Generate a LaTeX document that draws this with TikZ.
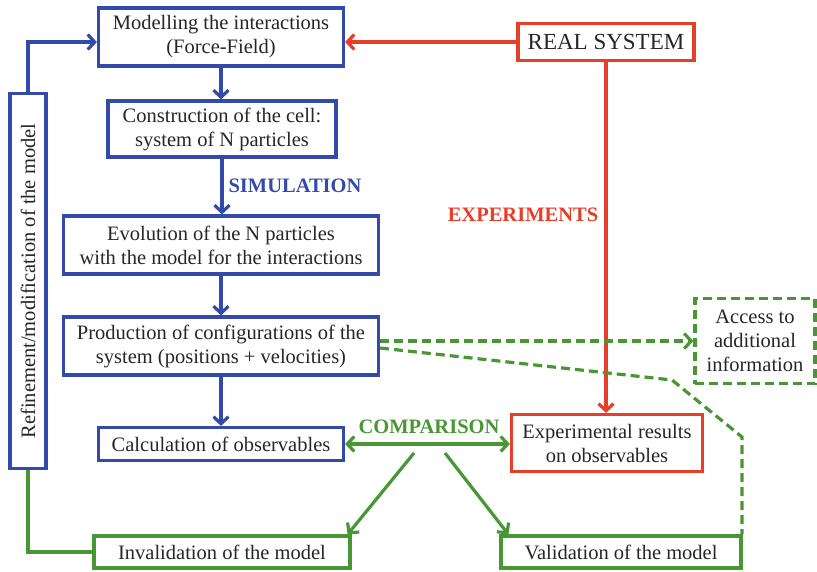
\documentclass[tikz,border=0pt]{standalone}
\usepackage{fontspec}
\setmainfont{Liberation Serif}
\usetikzlibrary{arrows.meta, positioning}
\definecolor{simblue}{RGB}{52,74,170}
\definecolor{expred}{RGB}{230,62,40}
\definecolor{cmpgreen}{RGB}{72,150,52}

\begin{document}
\begin{tikzpicture}[x=1pt, y=-1pt, font=\fontsize{20.5}{24}\selectfont,
    box/.style={line width=3.2pt, align=center, inner sep=0pt, text=black!85},
    link/.style={line width=3.2pt, -{Straight Barb[length=7pt,width=15pt]}},
    dashlink/.style={line width=3.2pt, dash pattern=on 9pt off 5pt},
    tag/.style={font=\fontsize{20.5}{24}\selectfont\bfseries}]
    \useasboundingbox (0,0) rectangle (817,571);
    % simulation chain
    \node[box, draw=simblue, minimum width=245pt, minimum height=58pt] (model) at (221,37) {Modelling the interactions\\ (Force-Field)};
    \node[box, draw=simblue, minimum width=228pt, minimum height=56pt] (cell) at (222,129) {Construction of the cell:\\ system of N particles};
    \node[box, draw=simblue, minimum width=315pt, minimum height=58pt] (evol) at (221,245) {Evolution of the N particles\\ with the model for the interactions};
    \node[box, draw=simblue, minimum width=315pt, minimum height=58pt] (prod) at (221,346) {Production of configurations of the\\ system (positions + velocities)};
    \node[box, draw=simblue, minimum width=245pt, minimum height=33pt] (calc) at (221,444) {Calculation of observables};
    \node[box, draw=simblue, rotate=90, minimum width=375pt, minimum height=36pt] (refine) at (28,281) {Refinement/modification of the model};
    % experiments
    \node[box, draw=expred, minimum width=176pt, minimum height=37pt, font=\fontsize{23}{26}\selectfont] (real) at (606,42) {REAL SYSTEM};
    \node[box, draw=expred, minimum width=191pt, minimum height=57pt] (exp) at (607,443) {Experimental results\\ on observables};
    % outcomes
    \node[box, draw=cmpgreen, dashlink, minimum width=120pt, minimum height=85pt] (access) at (755,341) {Access to\\ additional\\ information};
    \node[box, draw=cmpgreen, minimum width=256pt, minimum height=32pt] (inval) at (222,552) {Invalidation of the model};
    \node[box, draw=cmpgreen, minimum width=240pt, minimum height=32pt] (valid) at (621,552) {Validation of the model};
    % labels
    \node[tag, text=simblue] (simlab) at (295,186) {SIMULATION};
    \node[tag, text=expred] (explab) at (523,215) {EXPERIMENTS};
    \node[tag, text=cmpgreen] (cmplab) at (429,427) {COMPARISON};
    \coordinate (cmpL) at (414,453);
    \coordinate (cmpR) at (445,453);
    \coordinate (bend1) at (672,380);
    \coordinate (bend2) at (742,437);

    \draw[link, simblue] (model.south) -- (model.south |- cell.north);
    \draw[link, simblue] (cell.south) -- (cell.south |- evol.north);
    \draw[link, simblue] (evol.south) -- (evol.south |- prod.north);
    \draw[link, simblue] (prod.south) -- (prod.south |- calc.north);
    \draw[link, simblue] (refine.east) |- (real.west -| model.west);
    \draw[link, expred] (real.west) -- (real.west -| model.east);
    \draw[link, expred] (real.south) -- (real.south |- exp.north);
    \draw[link, cmpgreen, {Straight Barb[length=7pt,width=15pt]}-{Straight Barb[length=7pt,width=15pt]}] (calc.east) -- (calc.east -| exp.west);
    \draw[link, cmpgreen] (cmpL) -- ([xshift=-4pt]inval.north east);
    \draw[link, cmpgreen] (cmpR) -- ([xshift=9pt]valid.north west);
    \draw[line width=3.2pt, cmpgreen] (inval.west) -| (refine.west);
    \draw[dashlink, cmpgreen, -{Straight Barb[length=7pt,width=15pt]}] (prod.east |- access.west) -- (access.west);
    \draw[dashlink, cmpgreen] ([yshift=-2pt]prod.east) -- (bend1) -- (bend2) -- (bend2 |- valid.north);
\end{tikzpicture}
\end{document}
